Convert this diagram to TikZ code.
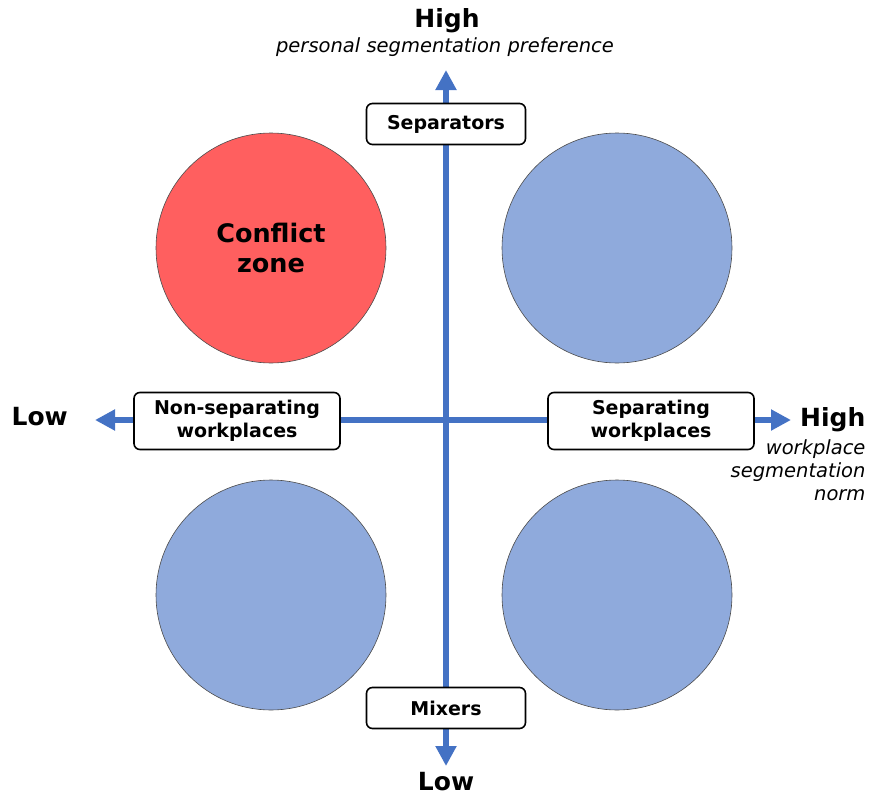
\documentclass[tikz,border=0pt]{standalone}
\usepackage{fontspec}
\setmainfont{DejaVu Sans}
\usetikzlibrary{arrows.meta}
\definecolor{axisblue}{HTML}{4472C4}
\definecolor{zoneblue}{HTML}{8FAADC}
\definecolor{zonered}{HTML}{FF5F5F}
\begin{document}
\begin{tikzpicture}[x=1pt, y=-1pt,
  every node/.style={font=\fontsize{19}{23}\selectfont\bfseries, align=center},
  axis/.style={line width=6pt, draw=axisblue, {Triangle[width=20pt,length=20pt]}-{Triangle[width=20pt,length=20pt]}},
  labelbox/.style={draw, rectangle, rounded corners=6pt, line width=1.6pt, fill=white, minimum width=159pt, minimum height=41pt, inner sep=2pt},
  widebox/.style={labelbox, minimum width=206pt, minimum height=57pt},
  zone/.style={circle, draw=black!70, line width=0.6pt, minimum size=230pt, fill=zoneblue, font=\fontsize{25.5}{30}\selectfont\bfseries},
  ends/.style={font=\fontsize{25}{28}\selectfont\bfseries, inner sep=1pt},
  note/.style={font=\fontsize{19.5}{23}\selectfont\itshape}
]
\useasboundingbox (0,0) rectangle (870,798);

\coordinate (top) at (446,70);
\coordinate (bottom) at (446,766);
\coordinate (left) at (95,420);
\coordinate (right) at (791,420);

\node[zone, fill=zonered] (Z1) at (271,248) {Conflict\\zone};
\node[zone] (Z2) at (617,248) {};
\node[zone] (Z3) at (271,595) {};
\node[zone] (Z4) at (617,595) {};

\draw[axis] (bottom) -- (top);
\draw[axis] (left) -- (right);

\node[labelbox] (sep) at (446,124) {Separators};
\node[labelbox] (mix) at (446,708) {Mixers};
\node[widebox] (nonsep) at (237,421) {Non-separating\\workplaces};
\node[widebox] (sepw) at (651,421) {Separating\\workplaces};

\node[ends] (hightop) at (447,21) {High};
\node[note] (pref) at (445,47) {personal segmentation preference};
\node[ends] (lowbottom) at (446,782) {Low};
\node[ends, anchor=east] (lowleft) at (69,417) {Low};
\node[ends, anchor=west] (highright) at (799,420) {High};
\node[note, anchor=north east, align=right] (norm) at (869,436) {workplace\\segmentation\\norm};
\end{tikzpicture}
\end{document}
